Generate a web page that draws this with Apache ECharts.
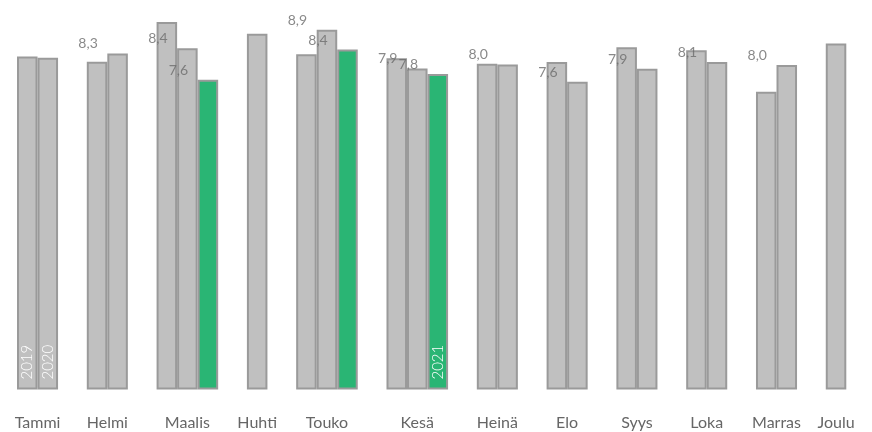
<!DOCTYPE html>
<html><head><meta charset="utf-8">
<script src="https://cdn.jsdelivr.net/npm/echarts@6/dist/echarts.min.js"></script>
<style>html,body{margin:0;padding:0;background:#fff}#chart{width:872px;height:432px}</style>
</head><body><div id="chart"></div>
<script>
const months = ['Tammi','Helmi','Maalis','Huhti','Touko','Kesä','Heinä','Elo','Syys','Loka','Marras','Joulu'];
const years = ['2019','2020','2021'];
const values2019 = [8.20, 8.07, 9.08, 8.78, 8.26, 8.16, 8.02, 8.06, 8.44, 8.36, 7.31, 8.53];
const values2020 = [8.17, 8.28, 8.41, null, 8.88, 7.90, 8.00, 7.56, 7.89, 8.06, 7.99, null];
const values2021 = [null, null, 7.61, null, 8.38, 7.76, null, null, null, null, null, null];
const yearLabelMonths = ['Tammi', 'Tammi', 'Kesä'];
const valueLabelYears = ['2020', '2021'];
const valueLabelHiddenMonths = ['Tammi'];

const seriesValues = [values2019, values2020, values2021];
const GROUP_GAP = 1.4;
const barColors = ['#c0c0c0', '#c0c0c0', '#2ab574'];

const barData = [[], [], []];
const labelData = [];
const centers = [];
let cursor = 0;
months.forEach((m, i) => {
  if (i > 0) cursor += GROUP_GAP;
  const start = cursor;
  seriesValues.forEach((vals, k) => {
    const v = vals[i];
    if (v == null) return;
    const x = cursor + 0.5;
    const item = { value: [x, v] };
    if (yearLabelMonths[k] === m) item.label = { show: true };
    barData[k].push(item);
    if (valueLabelYears.includes(years[k]) && !valueLabelHiddenMonths.includes(m)) labelData.push([x, v]);
    cursor += 1;
  });
  centers.push((start + cursor) / 2);
});
const xMax = cursor;

const FONT = 'Lato';
const chart = echarts.init(document.getElementById('chart'), null, { renderer: 'canvas' });
chart.setOption({
  animation: false,
  backgroundColor: '#fff',
  grid: { left: 17, right: 25.7, top: 17.2, bottom: 42.45, containLabel: false, outerBoundsMode: 'none' },
  xAxis: {
    type: 'value', min: 0, max: xMax,
    splitLine: { show: false }, axisLine: { show: false }, axisTick: { show: false },
    axisLabel: {
      customValues: centers,
      margin: 25,
      color: '#666', fontFamily: FONT, fontSize: 16,
      formatter: function (val) {
        let best = 0;
        centers.forEach((c, i) => { if (Math.abs(c - val) < Math.abs(centers[best] - val)) best = i; });
        return months[best];
      }
    }
  },
  yAxis: {
    type: 'value', min: -0.25, max: 9.2, startValue: -0.25, show: false,
    splitLine: { show: false }
  },
  series: years.map((y, k) => ({
    name: y, type: 'bar', data: barData[k],
    barWidth: '100%', barGap: '-100%',
    itemStyle: { color: barColors[k], borderColor: '#9a9a9a', borderWidth: 2 },
    label: {
      show: false, formatter: y, position: 'insideBottom', distance: 10,
      rotate: 90, align: 'left', verticalAlign: 'middle',
      color: '#fff', fontFamily: FONT, fontSize: 15, fontWeight: 300
    },
    silent: true
  })).concat([{
    name: 'arvot', type: 'scatter', data: labelData, symbolSize: 0, silent: true,
    label: {
      show: true, position: 'top', distance: 9.5, verticalAlign: 'middle', offset: [-29.5, 0],
      color: '#6b6b6b', fontFamily: FONT, fontSize: 14,
      formatter: p => p.value[1].toFixed(1).replace('.', ',')
    }
  }])
});
</script></body></html>
